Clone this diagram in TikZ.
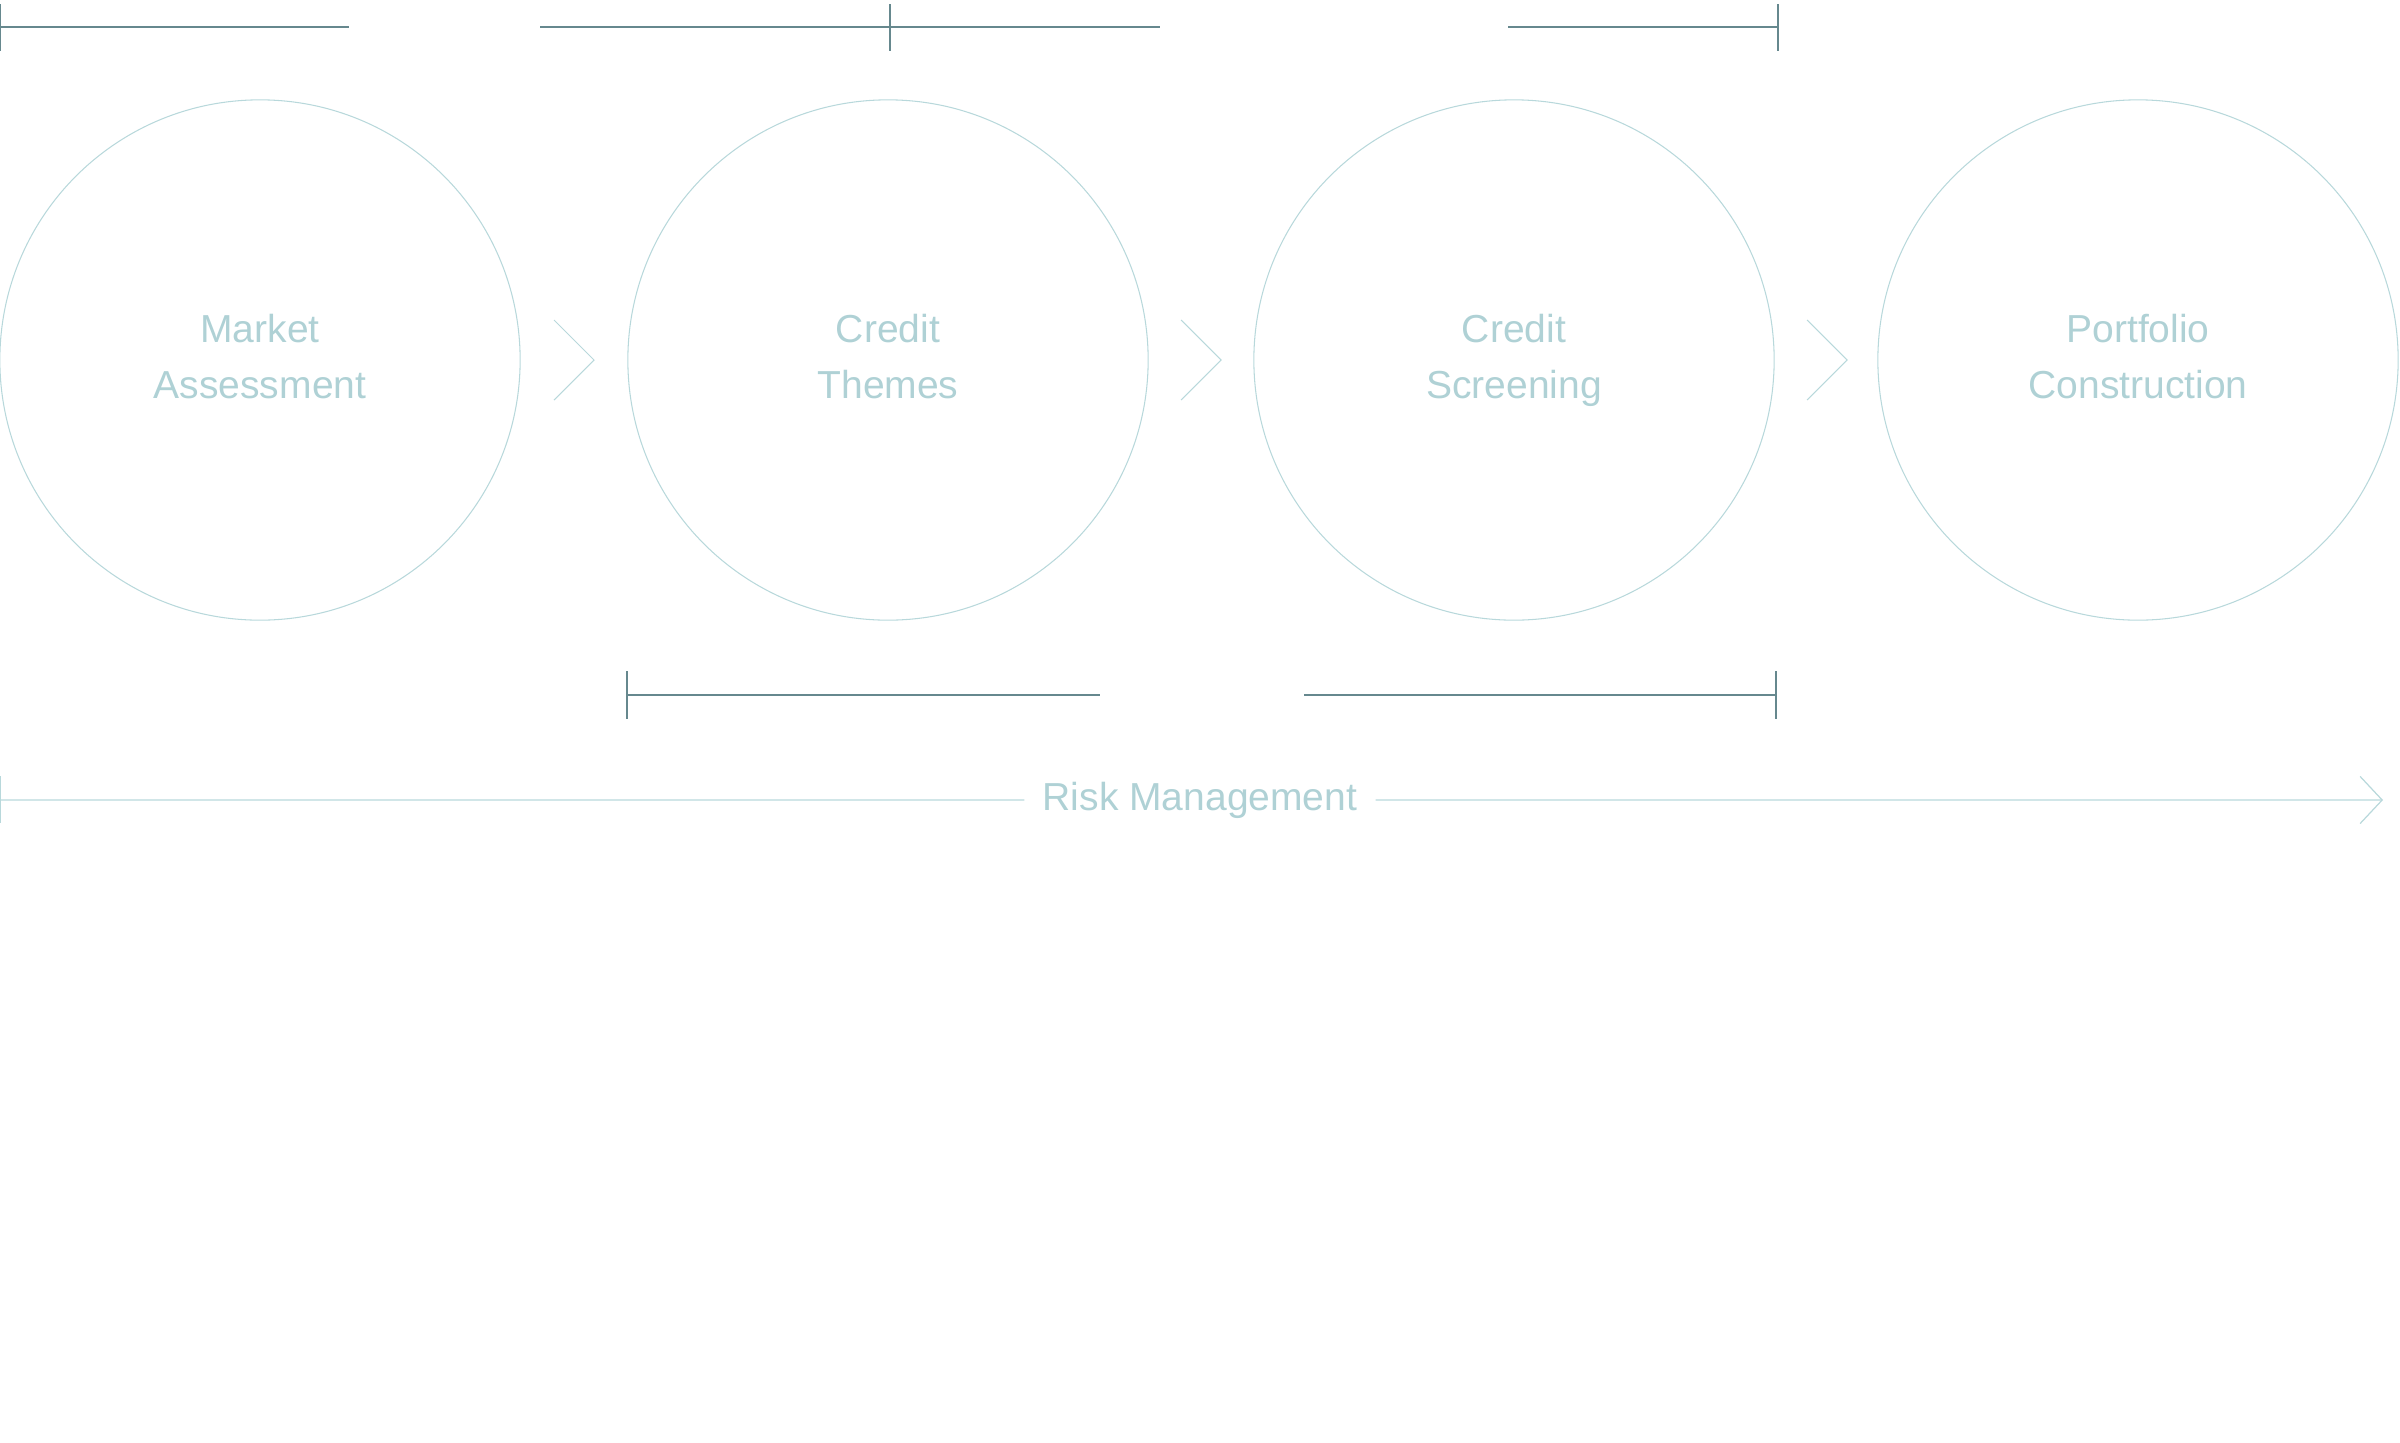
\documentclass[tikz,border=0pt]{standalone}
\usepackage{fontspec}
\setmainfont{Liberation Sans}
\usetikzlibrary{arrows.meta}
\definecolor{tealtext}{HTML}{AFD1D5}
\definecolor{tealline}{HTML}{B8D8DB}
\definecolor{bracketgray}{HTML}{66888E}

\begin{document}
\begin{tikzpicture}[x=0.01cm,y=-0.01cm,
    stage/.style={circle, draw=tealline, line width=0.3pt, minimum size=5.2cm, inner sep=0pt,
      align=center, text=tealtext, font=\fontsize{11.1}{15.9}\selectfont,
      execute at end node=\vphantom{g}},
    chev/.style={draw=tealline, line width=0.3pt},
    bracket/.style={draw=bracketgray, line width=0.4pt},
    riskline/.style={draw=tealline, line width=0.35pt}]
          \useasboundingbox (0,0) rectangle (2400,1442);

          % Top brackets
          \draw[bracket] (0,4) -- (0,51);
          \draw[bracket] (0,27) -- (349,27);
          \draw[bracket] (540,27) -- (1160,27);
          \draw[bracket] (890,4) -- (890,51);
          \draw[bracket] (1508,27) -- (1778,27);
          \draw[bracket] (1778,4) -- (1778,51);

          % Stages
          \node[stage] (market) at (260,360) {Market\\Assessment};
          \node[stage] (themes) at (888,360) {Credit\\Themes};
          \node[stage] (screening) at (1514,360) {Credit\\Screening};
          \node[stage] (portfolio) at (2138,360) {Portfolio\\Construction};

          % Chevrons between stages
          \foreach \x in {574,1201,1827}
            \draw[chev] (\x-20,320) -- (\x+20,360) -- (\x-20,400);

          % Bottom brackets
          \draw[bracket] (627,671) -- (627,719);
          \draw[bracket] (627,695) -- (1100,695);
          \draw[bracket] (1304,695) -- (1776,695);
          \draw[bracket] (1776,671) -- (1776,719);

          % Risk management line
          \node[text=tealtext, font=\fontsize{11.1}{15.9}\selectfont, inner xsep=5pt, anchor=base] (risk) at (1200,810) {Risk Management};
          \coordinate (riskstart) at (0,800);
          \coordinate (riskend) at (2383,800);
          \draw[riskline] (0,776) -- (0,823);
          \draw[riskline] (riskstart) -- (risk.west);
          \draw[riskline, -{Straight Barb[length=0.22cm, width=0.47cm]}] (risk.east) -- (riskend);

        \end{tikzpicture}
\end{document}
